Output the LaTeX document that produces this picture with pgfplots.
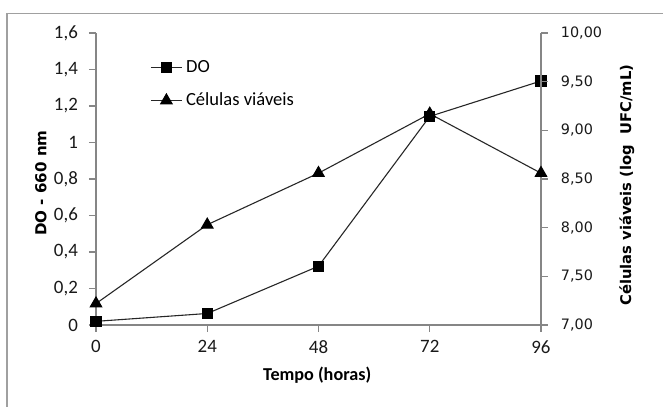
\documentclass[border=0pt]{standalone}
\usepackage{pgfplots}
\pgfplotsset{compat=1.18}
\usepackage{fontspec}
\setmainfont{Carlito}
\newfontfamily\dejavu{DejaVu Sans}

\definecolor{axisgray}{RGB}{134,134,134}
\definecolor{framegray}{RGB}{160,160,160}
\definecolor{txt}{RGB}{25,25,25}

\begin{document}
\begin{tikzpicture}
\useasboundingbox (0,0) rectangle (364.65pt,223.85pt);
\fill[white] (0,0) rectangle (364.65pt,223.85pt);
\draw[framegray, line width=0.7pt] (3.85pt,0) -- (3.85pt,216.4pt) -- (364.65pt,216.4pt);

% left axis: DO
\begin{axis}[
    at={(52.8pt,45.1pt)}, anchor=south west,
    scale only axis,
    width=244.75pt, height=160.6pt,
    xmin=0, xmax=96, ymin=0, ymax=1.6,
    axis x line*=bottom, axis y line*=left,
    axis line style={draw=axisgray, line width=0.6pt, -},
    xtick={0,24,48,72,96},
    ytick={0,0.2,...,1.6},
    tick align=outside,
    major tick length=3.85pt,
    every tick/.style={axisgray, line width=0.6pt},
    tick label style={font=\fontsize{10.4}{12}\selectfont, text=txt},
    /pgf/number format/assume math mode=true,
    yticklabel style={xshift=-2.6pt, /pgf/number format/.cd, fixed, precision=1, use comma},
    xticklabel style={yshift=-1pt},
    xlabel={\textbf{Tempo (horas)}},
    xlabel style={at={(axis description cs:0.497,-0.171)}, anchor=center, font=\fontsize{10}{12}\selectfont},
    ylabel={DO - 660 nm},
    ylabel style={at={(axis description cs:-0.1236,0.486)}, anchor=center, font=\dejavu\bfseries\fontsize{8.3}{10}\selectfont},
]
\addplot[black!85, line width=0.6pt, mark=square*, mark size=2.75pt, mark options={fill=black, draw=black}]
coordinates {
    (0, 0.02)
    (24, 0.063)
    (48, 0.322)
    (72, 1.143)
    (96, 1.337)
};
\end{axis}

% right axis: viable cells
\begin{axis}[
    at={(52.8pt,45.1pt)}, anchor=south west,
    scale only axis,
    width=244.75pt, height=160.6pt,
    xmin=0, xmax=96, ymin=7, ymax=10,
    axis x line=none, axis y line*=right,
    axis line style={draw=axisgray, line width=0.6pt, -},
    ytick={7,7.5,...,10},
    tick align=outside,
    major tick length=3.85pt,
    every tick/.style={axisgray, line width=0.6pt},
    tick label style={font=\dejavu\fontsize{7.9}{9}\selectfont, text=txt},
    /pgf/number format/assume math mode=true,
    yticklabel style={xshift=3.6pt, /pgf/number format/.cd, fixed, fixed zerofill, precision=2, use comma},
    ylabel={Células viáveis (log\ \ UFC/mL)},
    ylabel style={at={(axis description cs:1.193,0.479)}, anchor=center, font=\dejavu\bfseries\fontsize{8.1}{10}\selectfont},
    legend style={draw=none, fill=none, at={(axis description cs:0.1213,0.91)}, anchor=north west,
        inner sep=0pt, row sep=9pt, column sep=2pt,
        nodes={inner sep=0pt, text height=7pt, text depth=2pt},
        font=\fontsize{10.2}{12}\selectfont},
    legend cell align=left,
]
\addlegendimage{black!85, line width=0.6pt, mark=square*, mark size=2.75pt, mark options={fill=black, draw=black}}
\addlegendentry{DO}
\addplot[black!85, line width=0.6pt, mark=triangle*, mark size=3.6pt, mark options={fill=black, draw=black}]
coordinates {
    (0, 7.22)
    (24, 8.03)
    (48, 8.56)
    (72, 9.17)
    (96, 8.56)
};
\addlegendentry{Células viáveis}
\end{axis}
\end{tikzpicture}
\end{document}
